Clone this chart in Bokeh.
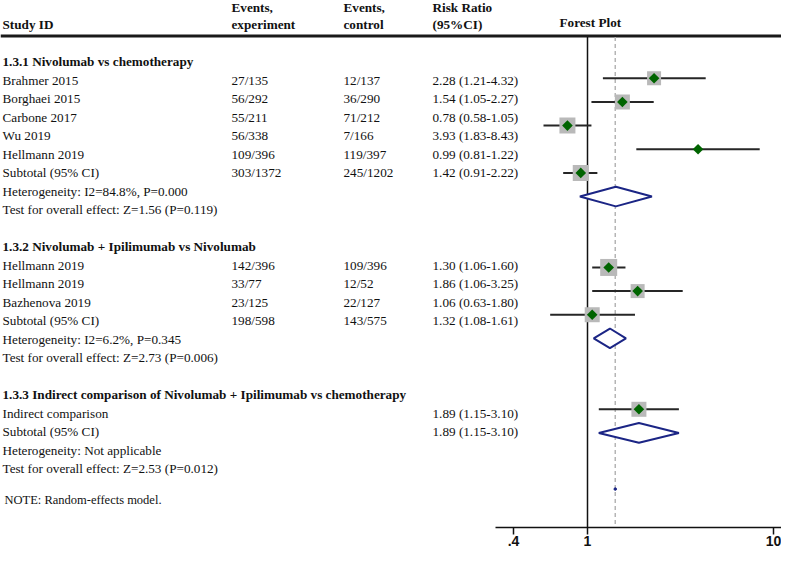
import math
from bokeh.plotting import figure
from bokeh.models import Range1d, LinearScale, FixedTicker, ColumnDataSource, CustomJSTickFormatter
from bokeh.core.properties import value
from bokeh.embed import file_html
from bokeh.resources import INLINE

# ------------------------------------------------------------------ data
group_titles = [
    "1.3.1 Nivolumab vs chemotherapy",
    "1.3.2 Nivolumab + Ipilimumab vs Nivolumab",
    "1.3.3 Indirect comparison of Nivolumab + Ipilimumab vs chemotherapy",
]

g1_studies = ["Brahmer 2015", "Borghaei 2015", "Carbone 2017", "Wu 2019", "Hellmann 2019"]
g1_exp = ["27/135", "56/292", "55/211", "56/338", "109/396"]
g1_ctl = ["12/137", "36/290", "71/212", "7/166", "119/397"]
g1_ci_txt = ["2.28 (1.21-4.32)", "1.54 (1.05-2.27)", "0.78 (0.58-1.05)", "3.93 (1.83-8.43)", "0.99 (0.81-1.22)"]
g1_rr = [2.28, 1.54, 0.78, 3.93, 0.92]        # as drawn in the plot
g1_lo = [1.21, 1.05, 0.58, 1.83, 0.74]
g1_hi = [4.32, 2.27, 1.05, 8.43, 1.13]

g2_studies = ["Hellmann 2019", "Hellmann 2019", "Bazhenova 2019"]
g2_exp = ["142/396", "33/77", "23/125"]
g2_ctl = ["109/396", "12/52", "22/127"]
g2_ci_txt = ["1.30 (1.06-1.60)", "1.86 (1.06-3.25)", "1.06 (0.63-1.80)"]
g2_rr = [1.30, 1.86, 1.06]
g2_lo = [1.06, 1.06, 0.63]
g2_hi = [1.60, 3.25, 1.80]

g3_studies = ["Indirect comparison"]
g3_exp = [""]
g3_ctl = [""]
g3_ci_txt = ["1.89 (1.15-3.10)"]
g3_rr = [1.89]
g3_lo = [1.15]
g3_hi = [3.10]

sub_exp = ["303/1372", "198/598", ""]
sub_ctl = ["245/1202", "143/575", ""]
sub_ci_txt = ["1.42 (0.91-2.22)", "1.32 (1.08-1.61)", "1.89 (1.15-3.10)"]
sub_rr = [1.42, 1.32, 1.89]
sub_lo = [0.91, 1.08, 1.15]
sub_hi = [2.22, 1.61, 3.10]

het_txt = ["Heterogeneity: I2=84.8%, P=0.000", "Heterogeneity: I2=6.2%, P=0.345",
           "Heterogeneity: Not applicable"]
test_txt = ["Test for overall effect: Z=1.56 (P=0.119)", "Test for overall effect: Z=2.73 (P=0.006)",
            "Test for overall effect: Z=2.53 (P=0.012)"]

box_px = [[14, 15, 16, 0, 16], [17, 14, 15], [15]]   # weight boxes (px)
overall_rr = 1.41
tick_values = [0.4, 1, 10]
note_txt = "NOTE: Random-effects model."

# ------------------------------------------------------------------ layout helpers (reference pixel units)
FIG_W, FIG_H = 781, 548
X1_REF, DEC_REF = 587.0, 186.0
TXT_Y0, TXT_STEP = 62.0, 18.78
PLT_Y0, PLT_STEP = 79.0, 24.0
COLS = [2, 231, 343, 432]
FONT = value("Liberation Serif")
FS = value("13.2px")

groups = [
    (g1_studies, g1_exp, g1_ctl, g1_ci_txt, g1_rr, g1_lo, g1_hi),
    (g2_studies, g2_exp, g2_ctl, g2_ci_txt, g2_rr, g2_lo, g2_hi),
    (g3_studies, g3_exp, g3_ctl, g3_ci_txt, g3_rr, g3_lo, g3_hi),
]

reg = dict(x=[], y=[], t=[])
bold = dict(x=[], y=[], t=[])
st = dict(rr=[], lo=[], hi=[], y=[], box=[])
dia = dict(xs=[], ys=[])


def put(d, col, k, txt):
    if txt:
        d["x"].append(COLS[col])
        d["y"].append(TXT_Y0 + TXT_STEP * k)
        d["t"].append(txt)


k, j = 0, 0
for gi, (names, ex, ct, cit, rr, lo, hi) in enumerate(groups):
    put(bold, 0, k, group_titles[gi])
    k += 1
    for i in range(len(names)):
        put(reg, 0, k, names[i]); put(reg, 1, k, ex[i]); put(reg, 2, k, ct[i]); put(reg, 3, k, cit[i])
        st["rr"].append(rr[i]); st["lo"].append(lo[i]); st["hi"].append(hi[i])
        st["y"].append(PLT_Y0 + PLT_STEP * j); st["box"].append(box_px[gi][i])
        k += 1; j += 1
    put(reg, 0, k, "Subtotal (95% CI)"); put(reg, 1, k, sub_exp[gi]); put(reg, 2, k, sub_ctl[gi])
    put(reg, 3, k, sub_ci_txt[gi])
    yd = PLT_Y0 + PLT_STEP * j
    dia["xs"].append([sub_lo[gi], sub_rr[gi], sub_hi[gi], sub_rr[gi]])
    dia["ys"].append([yd, yd - 10, yd, yd + 10])
    k += 1; j += 3
    put(reg, 0, k, het_txt[gi]); k += 1
    put(reg, 0, k, test_txt[gi]); k += 2

# ------------------------------------------------------------------ figure
p = figure(width=FIG_W, height=FIG_H, x_axis_type="log",
           x_range=Range1d(10 ** ((0 - X1_REF) / DEC_REF), 10 ** ((FIG_W - X1_REF) / DEC_REF)),
           y_range=Range1d(535, 0), output_backend="svg", toolbar_location=None,
           min_border=0, y_axis_location=None)
p.extra_x_ranges = {"px": Range1d(0, FIG_W)}
p.extra_x_scales = {"px": LinearScale()}
p.xgrid.visible = False
p.ygrid.visible = False
p.outline_line_color = None
p.background_fill_color = "white"

ax = p.xaxis[0]
ax.ticker = FixedTicker(ticks=tick_values)
ax.formatter = CustomJSTickFormatter(code="return tick < 1 ? '.' + Math.round(tick*10) : String(Math.round(tick));")
ax.bounds = (10 ** ((495 - X1_REF) / DEC_REF), 10 ** ((FIG_W - X1_REF) / DEC_REF))
ax.major_tick_out = 7
ax.major_tick_in = 0
ax.minor_tick_out = 0
ax.minor_tick_in = 0
ax.axis_line_width = 1.5
ax.major_tick_line_width = 1.5
ax.axis_line_color = "#111111"
ax.major_tick_line_color = "#111111"
ax.major_label_text_font = "Liberation Sans"
ax.major_label_text_font_size = "14px"
ax.major_label_text_font_style = "bold"
ax.major_label_text_color = "#111111"
ax.major_label_standoff = 1

# header rule
p.segment(x0=[0], x1=[FIG_W], y0=[36], y1=[36], x_range_name="px", line_width=3, line_color="#1a1a1a")

# reference lines
p.segment(x0=[overall_rr], x1=[overall_rr], y0=[37], y1=[535], line_color="#b5b5b5",
          line_width=1.5, line_dash="4 3")
p.segment(x0=[1], x1=[1], y0=[37], y1=[535], line_color="#111111", line_width=1.5)

# studies
src = ColumnDataSource(st)
p.segment(x0="lo", x1="hi", y0="y", y1="y", source=src, line_color="#262626", line_width=2)
p.scatter(x="rr", y="y", size="box", marker="square", source=src, fill_color="#b9b9b9", line_color=None)
p.scatter(x="rr", y="y", size=7.5, marker="square", angle=math.pi / 4, source=src,
          fill_color="#006400", line_color=None)

# subtotal diamonds
p.patches(xs="xs", ys="ys", source=ColumnDataSource(dia), fill_color="white",
          line_color="#1b2585", line_width=2)
p.scatter(x=[overall_rr], y=[496], size=2.5, marker="circle", color="#1b2585")

# texts
p.text(x="x", y="y", text="t", source=ColumnDataSource(reg), x_range_name="px",
       text_font=FONT, text_font_size=FS, text_baseline="middle", text_align="left", text_color="#111111")
p.text(x="x", y="y", text="t", source=ColumnDataSource(bold), x_range_name="px",
       text_font=FONT, text_font_size=FS, text_font_style="bold", text_baseline="middle",
       text_align="left", text_color="#111111")

hdr = dict(x=[2, 231, 231, 343, 343, 432, 432, 559],
           y=[24, 7, 24, 7, 24, 7, 24, 22],
           t=["Study ID", "Events,", "experiment", "Events,", "control", "Risk Ratio", "(95%CI)", "Forest Plot"])
p.text(x="x", y="y", text="t", source=ColumnDataSource(hdr), x_range_name="px",
       text_font=FONT, text_font_size=FS, text_font_style="bold", text_baseline="middle",
       text_align="left", text_color="#111111")
p.text(x=[4], y=[507], text=[note_txt], x_range_name="px", text_font=FONT, text_font_size=value("12.5px"),
       text_baseline="middle", text_align="left", text_color="#111111")

open("out.html", "w").write(file_html(p, INLINE))
